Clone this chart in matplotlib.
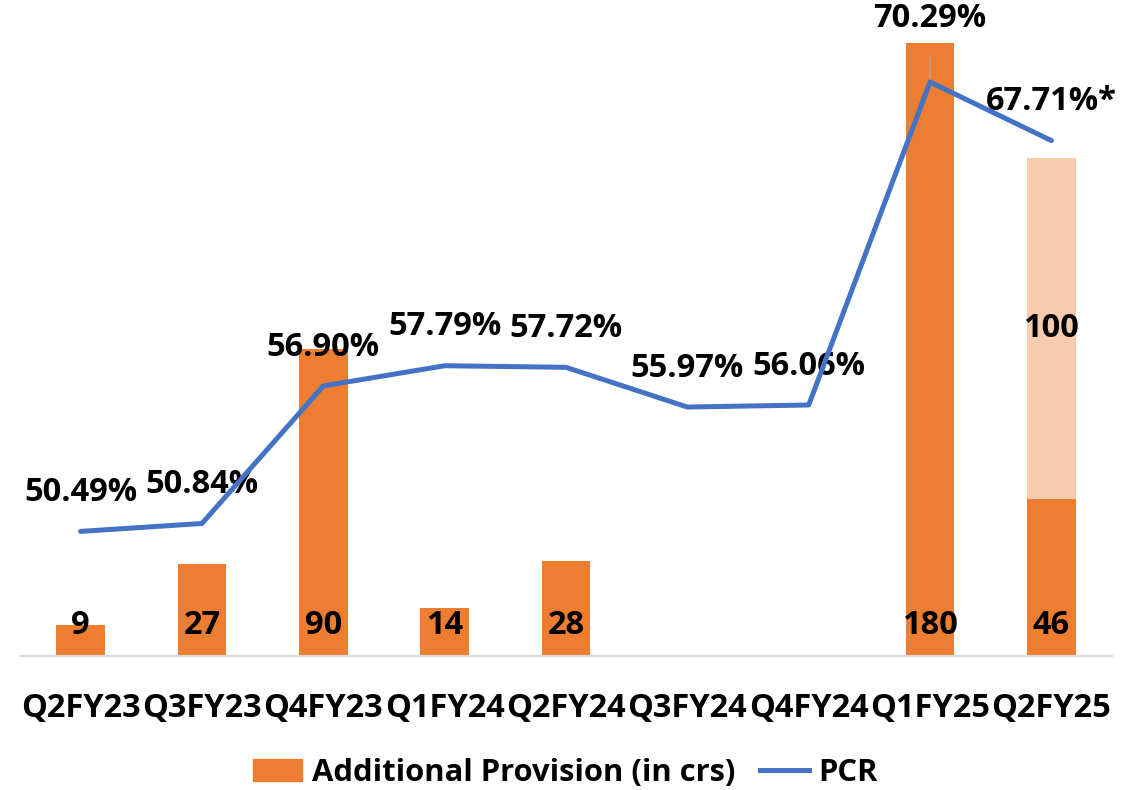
import matplotlib.pyplot as plt
import numpy as np

plt.rcParams['font.family'] = ['Open Sans', 'DejaVu Sans']
plt.rcParams['font.weight'] = 'bold'

quarters = ['Q2FY23', 'Q3FY23', 'Q4FY23', 'Q1FY24', 'Q2FY24',
            'Q3FY24', 'Q4FY24', 'Q1FY25', 'Q2FY25']
provision = [9, 27, 90, 14, 28, 0, 0, 180, 46]
extra_provision = [0, 0, 0, 0, 0, 0, 0, 0, 100]
pcr = [50.49, 50.84, 56.90, 57.79, 57.72, 55.97, 56.06, 70.29, 67.71]
pcr_labels = ['50.49%', '50.84%', '56.90%', '57.79%', '57.72%',
              '55.97%', '56.06%', '70.29%', '67.71%*']

orange = '#ED7D31'
light = '#F8CBAD'
blue = '#4472C4'
fs = 23.5

fig = plt.figure(figsize=(11.4, 7.9), dpi=100)
ax = fig.add_axes([0.0175, 0.1696, 0.958, 0.805])
x = np.arange(len(quarters))

ax.bar(x, provision, width=0.4, color=orange, zorder=2)
ax.bar(x, extra_provision, width=0.4, bottom=provision, color=light, zorder=2)
ax.set_xlim(-0.5, 8.5)
ax.set_ylim(0, 186.6)

for i, v in enumerate(provision):
    if v > 0:
        ax.text(i, 9, str(v), ha='center', va='center', fontsize=fs, fontweight='bold', zorder=5)
for i, v in enumerate(extra_provision):
    if v > 0:
        ax.text(i, provision[i] + v / 2, str(v), ha='center', va='center',
                fontsize=fs, fontweight='bold', zorder=5)

for s in ['top', 'right', 'left']:
    ax.spines[s].set_visible(False)
ax.spines['bottom'].set_color('#d9d9d9')
ax.spines['bottom'].set_linewidth(1.5)
ax.set_yticks([])
ax.set_xticks(x)
ax.set_xticklabels(quarters, fontsize=fs, fontweight='bold')
ax.tick_params(axis='x', length=0, pad=26)

ax2 = ax.twinx()
ax2.set_ylim(45, 73.02)
ax2.plot(x, pcr, color=blue, linewidth=3.6, solid_capstyle='round', zorder=4)
ax2.axis('off')

for i, (v, lab) in enumerate(zip(pcr, pcr_labels)):
    if i == 7:
        ax2.annotate(lab, xy=(i, v), xytext=(0, 46), textcoords='offset points',
                     ha='center', va='center', fontsize=fs, fontweight='bold',
                     arrowprops=dict(arrowstyle='-', color='#a6a6a6', lw=1,
                                     shrinkA=14, shrinkB=0))
    else:
        ax2.annotate(lab, xy=(i, v), xytext=(0, 28), textcoords='offset points',
                     ha='center', va='center', fontsize=fs, fontweight='bold')

handles = [plt.Rectangle((0, 0), 1, 1, color=orange),
           plt.Line2D([0], [0], color=blue, linewidth=3.6)]
fig.legend(handles, ['Additional Provision (in crs)', 'PCR'], loc='center',
           bbox_to_anchor=(0.496, 0.0215), ncol=2, frameon=False,
           prop={'weight': 'bold', 'size': 22.3}, handlelength=1.6,
           handletextpad=0.3, columnspacing=0.8)

fig.savefig('out.png', dpi=100)
